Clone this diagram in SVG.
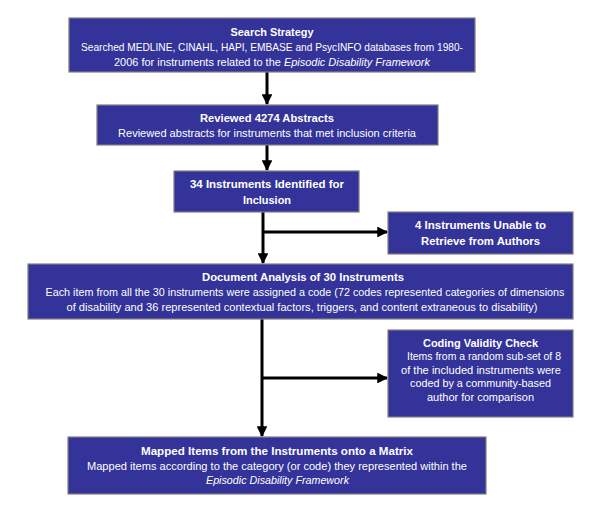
<svg xmlns="http://www.w3.org/2000/svg" width="600" height="517" viewBox="0 0 600 517">
<style>
.box{fill:#333399;stroke:#7f7f7f;stroke-width:1.2}
text{font-family:"Liberation Sans",Arial,sans-serif;fill:#ffffff;text-anchor:middle;font-size:10.5px}
.t{font-weight:bold;font-size:11.5px}
.i{font-style:italic}
.c{stroke:#000;stroke-width:3;fill:none}
</style>
<defs>
<marker id="ah" viewBox="0 0 10 10" refX="9" refY="5" markerWidth="3.6" markerHeight="3.6" orient="auto" markerUnits="strokeWidth">
<path d="M0,0 L10,5 L0,10 z" fill="#000"/>
</marker>
</defs>
<rect width="600" height="517" fill="#fff"/>
<g id="connectors">
<line class="c" x1="267" y1="72" x2="267" y2="104" marker-end="url(#ah)"/>
<line class="c" x1="267" y1="145" x2="267" y2="170" marker-end="url(#ah)"/>
<line class="c" x1="263" y1="212" x2="263" y2="263" marker-end="url(#ah)"/>
<line class="c" x1="263" y1="232" x2="387" y2="232" marker-end="url(#ah)"/>
<line class="c" x1="262" y1="319" x2="262" y2="436" marker-end="url(#ah)"/>
<line class="c" x1="262" y1="378" x2="387" y2="378" marker-end="url(#ah)"/>
</g>
<g id="search">
<rect class="box" x="69" y="18" width="406" height="54"/>
<text class="t" x="272" y="36" textLength="83" lengthAdjust="spacingAndGlyphs">Search Strategy</text>
<text x="272" y="51" textLength="382" lengthAdjust="spacingAndGlyphs">Searched MEDLINE, CINAHL, HAPI, EMBASE and PsycINFO databases from 1980-</text>
<text x="272" y="66" textLength="316" lengthAdjust="spacingAndGlyphs">2006 for instruments related to the <tspan class="i">Episodic Disability Framework</tspan></text>
</g>
<g id="reviewed">
<rect class="box" x="97" y="105" width="341" height="40"/>
<text class="t" x="267" y="122" textLength="134" lengthAdjust="spacingAndGlyphs">Reviewed 4274 Abstracts</text>
<text x="267" y="137" textLength="298" lengthAdjust="spacingAndGlyphs">Reviewed abstracts for instruments that met inclusion criteria</text>
</g>
<g id="identified">
<rect class="box" x="174" y="171" width="185" height="41"/>
<text class="t" x="267" y="188" textLength="154" lengthAdjust="spacingAndGlyphs">34 Instruments Identified for</text>
<text class="t" x="267" y="204" textLength="48" lengthAdjust="spacingAndGlyphs">Inclusion</text>
</g>
<g id="unable">
<rect class="box" x="388" y="212" width="185" height="42"/>
<text class="t" x="480.5" y="229" textLength="131" lengthAdjust="spacingAndGlyphs">4 Instruments Unable to</text>
<text class="t" x="480.5" y="245" textLength="119" lengthAdjust="spacingAndGlyphs">Retrieve from Authors</text>
</g>
<g id="analysis">
<rect class="box" x="28" y="264" width="545" height="55"/>
<text class="t" x="303" y="281" textLength="202" lengthAdjust="spacingAndGlyphs">Document Analysis of 30 Instruments</text>
<text x="305" y="296" textLength="519" lengthAdjust="spacingAndGlyphs">Each item from all the 30 instruments were assigned a code (72 codes represented categories of dimensions</text>
<text x="302" y="311" textLength="471" lengthAdjust="spacingAndGlyphs">of disability and 36 represented contextual factors, triggers, and content extraneous to disability)</text>
</g>
<g id="validity">
<rect class="box" x="388" y="330" width="185" height="87"/>
<text class="t" x="480.5" y="347" textLength="115" lengthAdjust="spacingAndGlyphs">Coding Validity Check</text>
<text x="484" y="360" textLength="154" lengthAdjust="spacingAndGlyphs">Items from a random sub-set of 8</text>
<text x="481" y="374" textLength="160" lengthAdjust="spacingAndGlyphs">of the included instruments were</text>
<text x="480.5" y="387" textLength="141" lengthAdjust="spacingAndGlyphs">coded by a community-based</text>
<text x="480.5" y="401" textLength="107" lengthAdjust="spacingAndGlyphs">author for comparison</text>
</g>
<g id="mapped">
<rect class="box" x="68" y="437" width="418" height="57"/>
<text class="t" x="277" y="455" textLength="272" lengthAdjust="spacingAndGlyphs">Mapped Items from the Instruments onto a Matrix</text>
<text x="277" y="470" textLength="380" lengthAdjust="spacingAndGlyphs">Mapped items according to the category (or code) they represented within the</text>
<text class="i" x="277.5" y="484" textLength="143" lengthAdjust="spacingAndGlyphs">Episodic Disability Framework</text>
</g>
</svg>
